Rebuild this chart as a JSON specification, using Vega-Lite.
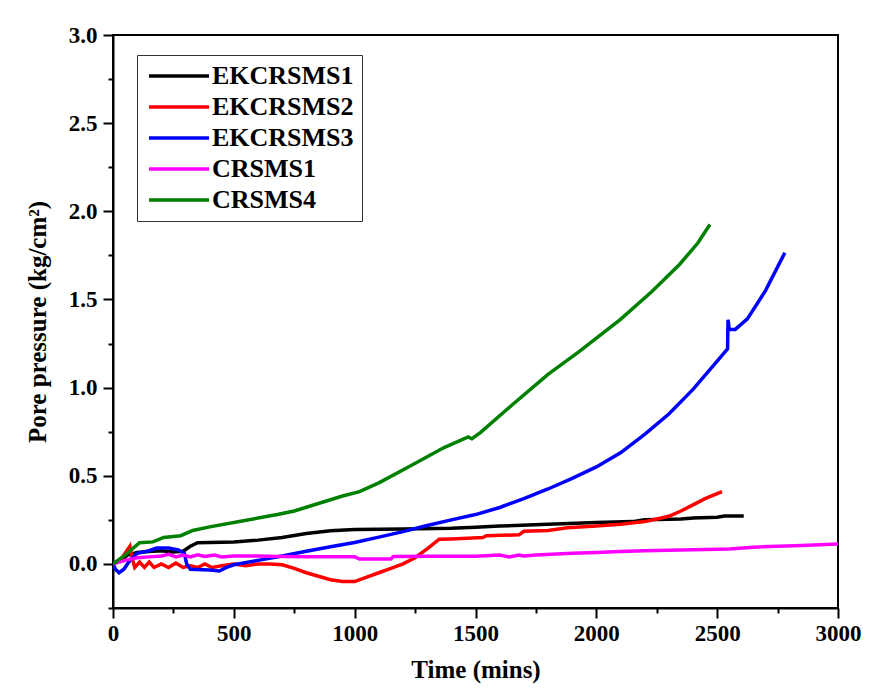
{
  "$schema": "https://vega.github.io/schema/vega-lite/v6.json",
  "width": 725,
  "height": 573,
  "autosize": {"type": "none"},
  "padding": {"left": 113, "top": 35, "right": 32, "bottom": 87},
  "background": "white",
  "config": {
    "font": "Liberation Serif",
    "view": {"stroke": "black", "strokeWidth": 2},
    "axis": {
      "labelFont": "Liberation Serif", "labelFontWeight": "bold", "labelFontSize": 23, "labelColor": "black",
      "titleFont": "Liberation Serif", "titleFontWeight": "bold", "titleFontSize": 25, "titleColor": "black",
      "domainColor": "black", "domainWidth": 2, "tickColor": "black", "tickWidth": 2, "grid": false,
      "labelFlush": false
    }
  },
  "datasets": {
    "curves": [
      {"series": "EKCRSMS1", "t": 0, "p": 0}, {"series": "EKCRSMS1", "t": 30, "p": 0.02}, {"series": "EKCRSMS1", "t": 60, "p": 0.05},
      {"series": "EKCRSMS1", "t": 100, "p": 0.065}, {"series": "EKCRSMS1", "t": 150, "p": 0.07}, {"series": "EKCRSMS1", "t": 200, "p": 0.075},
      {"series": "EKCRSMS1", "t": 250, "p": 0.068}, {"series": "EKCRSMS1", "t": 290, "p": 0.072}, {"series": "EKCRSMS1", "t": 320, "p": 0.1},
      {"series": "EKCRSMS1", "t": 350, "p": 0.12}, {"series": "EKCRSMS1", "t": 500, "p": 0.125}, {"series": "EKCRSMS1", "t": 600, "p": 0.135},
      {"series": "EKCRSMS1", "t": 700, "p": 0.15}, {"series": "EKCRSMS1", "t": 800, "p": 0.172}, {"series": "EKCRSMS1", "t": 900, "p": 0.188},
      {"series": "EKCRSMS1", "t": 1000, "p": 0.195}, {"series": "EKCRSMS1", "t": 1200, "p": 0.198}, {"series": "EKCRSMS1", "t": 1400, "p": 0.202},
      {"series": "EKCRSMS1", "t": 1500, "p": 0.208}, {"series": "EKCRSMS1", "t": 1600, "p": 0.215}, {"series": "EKCRSMS1", "t": 1800, "p": 0.225},
      {"series": "EKCRSMS1", "t": 2000, "p": 0.235}, {"series": "EKCRSMS1", "t": 2150, "p": 0.24}, {"series": "EKCRSMS1", "t": 2200, "p": 0.25},
      {"series": "EKCRSMS1", "t": 2350, "p": 0.255}, {"series": "EKCRSMS1", "t": 2400, "p": 0.26}, {"series": "EKCRSMS1", "t": 2500, "p": 0.265},
      {"series": "EKCRSMS1", "t": 2530, "p": 0.272}, {"series": "EKCRSMS1", "t": 2610, "p": 0.272},

      {"series": "EKCRSMS2", "t": 0, "p": 0}, {"series": "EKCRSMS2", "t": 30, "p": 0.02}, {"series": "EKCRSMS2", "t": 55, "p": 0.07},
      {"series": "EKCRSMS2", "t": 70, "p": 0.1}, {"series": "EKCRSMS2", "t": 80, "p": 0.03}, {"series": "EKCRSMS2", "t": 90, "p": -0.02},
      {"series": "EKCRSMS2", "t": 110, "p": 0.01}, {"series": "EKCRSMS2", "t": 130, "p": -0.02}, {"series": "EKCRSMS2", "t": 150, "p": 0.01},
      {"series": "EKCRSMS2", "t": 170, "p": -0.02}, {"series": "EKCRSMS2", "t": 200, "p": 0.0}, {"series": "EKCRSMS2", "t": 230, "p": -0.02},
      {"series": "EKCRSMS2", "t": 260, "p": 0.005}, {"series": "EKCRSMS2", "t": 290, "p": -0.02}, {"series": "EKCRSMS2", "t": 320, "p": -0.01},
      {"series": "EKCRSMS2", "t": 350, "p": -0.02}, {"series": "EKCRSMS2", "t": 380, "p": 0.0}, {"series": "EKCRSMS2", "t": 410, "p": -0.02},
      {"series": "EKCRSMS2", "t": 450, "p": -0.01}, {"series": "EKCRSMS2", "t": 500, "p": 0.0}, {"series": "EKCRSMS2", "t": 550, "p": -0.01},
      {"series": "EKCRSMS2", "t": 600, "p": 0.0}, {"series": "EKCRSMS2", "t": 650, "p": 0.0}, {"series": "EKCRSMS2", "t": 700, "p": -0.005},
      {"series": "EKCRSMS2", "t": 750, "p": -0.025}, {"series": "EKCRSMS2", "t": 800, "p": -0.05}, {"series": "EKCRSMS2", "t": 850, "p": -0.07},
      {"series": "EKCRSMS2", "t": 900, "p": -0.09}, {"series": "EKCRSMS2", "t": 950, "p": -0.1}, {"series": "EKCRSMS2", "t": 1000, "p": -0.1},
      {"series": "EKCRSMS2", "t": 1050, "p": -0.075}, {"series": "EKCRSMS2", "t": 1100, "p": -0.05}, {"series": "EKCRSMS2", "t": 1150, "p": -0.025},
      {"series": "EKCRSMS2", "t": 1200, "p": 0.0}, {"series": "EKCRSMS2", "t": 1250, "p": 0.035}, {"series": "EKCRSMS2", "t": 1300, "p": 0.085},
      {"series": "EKCRSMS2", "t": 1350, "p": 0.14}, {"series": "EKCRSMS2", "t": 1400, "p": 0.142}, {"series": "EKCRSMS2", "t": 1530, "p": 0.15},
      {"series": "EKCRSMS2", "t": 1545, "p": 0.16}, {"series": "EKCRSMS2", "t": 1680, "p": 0.165}, {"series": "EKCRSMS2", "t": 1700, "p": 0.185},
      {"series": "EKCRSMS2", "t": 1800, "p": 0.19}, {"series": "EKCRSMS2", "t": 1880, "p": 0.205}, {"series": "EKCRSMS2", "t": 2000, "p": 0.215},
      {"series": "EKCRSMS2", "t": 2100, "p": 0.225}, {"series": "EKCRSMS2", "t": 2200, "p": 0.24}, {"series": "EKCRSMS2", "t": 2250, "p": 0.255},
      {"series": "EKCRSMS2", "t": 2300, "p": 0.27}, {"series": "EKCRSMS2", "t": 2350, "p": 0.3}, {"series": "EKCRSMS2", "t": 2400, "p": 0.335},
      {"series": "EKCRSMS2", "t": 2450, "p": 0.37}, {"series": "EKCRSMS2", "t": 2520, "p": 0.41},

      {"series": "EKCRSMS3", "t": 0, "p": 0}, {"series": "EKCRSMS3", "t": 10, "p": -0.03}, {"series": "EKCRSMS3", "t": 25, "p": -0.05},
      {"series": "EKCRSMS3", "t": 45, "p": -0.03}, {"series": "EKCRSMS3", "t": 70, "p": 0.02}, {"series": "EKCRSMS3", "t": 100, "p": 0.06},
      {"series": "EKCRSMS3", "t": 150, "p": 0.075}, {"series": "EKCRSMS3", "t": 180, "p": 0.09}, {"series": "EKCRSMS3", "t": 230, "p": 0.09},
      {"series": "EKCRSMS3", "t": 270, "p": 0.08}, {"series": "EKCRSMS3", "t": 295, "p": 0.06}, {"series": "EKCRSMS3", "t": 305, "p": 0.0},
      {"series": "EKCRSMS3", "t": 320, "p": -0.03}, {"series": "EKCRSMS3", "t": 400, "p": -0.035}, {"series": "EKCRSMS3", "t": 440, "p": -0.04},
      {"series": "EKCRSMS3", "t": 470, "p": -0.02}, {"series": "EKCRSMS3", "t": 500, "p": -0.005}, {"series": "EKCRSMS3", "t": 600, "p": 0.02},
      {"series": "EKCRSMS3", "t": 700, "p": 0.045}, {"series": "EKCRSMS3", "t": 800, "p": 0.072}, {"series": "EKCRSMS3", "t": 900, "p": 0.097},
      {"series": "EKCRSMS3", "t": 1000, "p": 0.122}, {"series": "EKCRSMS3", "t": 1100, "p": 0.152}, {"series": "EKCRSMS3", "t": 1200, "p": 0.183},
      {"series": "EKCRSMS3", "t": 1300, "p": 0.218}, {"series": "EKCRSMS3", "t": 1400, "p": 0.25}, {"series": "EKCRSMS3", "t": 1500, "p": 0.28},
      {"series": "EKCRSMS3", "t": 1600, "p": 0.32}, {"series": "EKCRSMS3", "t": 1700, "p": 0.37}, {"series": "EKCRSMS3", "t": 1800, "p": 0.425},
      {"series": "EKCRSMS3", "t": 1900, "p": 0.485}, {"series": "EKCRSMS3", "t": 2000, "p": 0.55}, {"series": "EKCRSMS3", "t": 2100, "p": 0.63},
      {"series": "EKCRSMS3", "t": 2200, "p": 0.735}, {"series": "EKCRSMS3", "t": 2300, "p": 0.85}, {"series": "EKCRSMS3", "t": 2400, "p": 0.99},
      {"series": "EKCRSMS3", "t": 2500, "p": 1.15}, {"series": "EKCRSMS3", "t": 2543, "p": 1.22}, {"series": "EKCRSMS3", "t": 2545, "p": 1.385},
      {"series": "EKCRSMS3", "t": 2550, "p": 1.33}, {"series": "EKCRSMS3", "t": 2575, "p": 1.33}, {"series": "EKCRSMS3", "t": 2625, "p": 1.39},
      {"series": "EKCRSMS3", "t": 2700, "p": 1.55}, {"series": "EKCRSMS3", "t": 2780, "p": 1.765},

      {"series": "CRSMS1", "t": 0, "p": 0}, {"series": "CRSMS1", "t": 50, "p": 0.02}, {"series": "CRSMS1", "t": 100, "p": 0.035},
      {"series": "CRSMS1", "t": 150, "p": 0.04}, {"series": "CRSMS1", "t": 200, "p": 0.045}, {"series": "CRSMS1", "t": 230, "p": 0.055},
      {"series": "CRSMS1", "t": 260, "p": 0.04}, {"series": "CRSMS1", "t": 290, "p": 0.05}, {"series": "CRSMS1", "t": 320, "p": 0.04},
      {"series": "CRSMS1", "t": 350, "p": 0.052}, {"series": "CRSMS1", "t": 380, "p": 0.042}, {"series": "CRSMS1", "t": 420, "p": 0.05},
      {"series": "CRSMS1", "t": 450, "p": 0.04}, {"series": "CRSMS1", "t": 500, "p": 0.045}, {"series": "CRSMS1", "t": 600, "p": 0.045},
      {"series": "CRSMS1", "t": 700, "p": 0.042}, {"series": "CRSMS1", "t": 800, "p": 0.04}, {"series": "CRSMS1", "t": 1000, "p": 0.04},
      {"series": "CRSMS1", "t": 1020, "p": 0.028}, {"series": "CRSMS1", "t": 1150, "p": 0.028}, {"series": "CRSMS1", "t": 1160, "p": 0.042},
      {"series": "CRSMS1", "t": 1300, "p": 0.043}, {"series": "CRSMS1", "t": 1500, "p": 0.044}, {"series": "CRSMS1", "t": 1600, "p": 0.05},
      {"series": "CRSMS1", "t": 1640, "p": 0.04}, {"series": "CRSMS1", "t": 1680, "p": 0.05}, {"series": "CRSMS1", "t": 1700, "p": 0.045},
      {"series": "CRSMS1", "t": 1750, "p": 0.05}, {"series": "CRSMS1", "t": 1900, "p": 0.06}, {"series": "CRSMS1", "t": 2000, "p": 0.065},
      {"series": "CRSMS1", "t": 2100, "p": 0.07}, {"series": "CRSMS1", "t": 2200, "p": 0.075}, {"series": "CRSMS1", "t": 2400, "p": 0.08},
      {"series": "CRSMS1", "t": 2550, "p": 0.085}, {"series": "CRSMS1", "t": 2650, "p": 0.095}, {"series": "CRSMS1", "t": 2850, "p": 0.105},
      {"series": "CRSMS1", "t": 3000, "p": 0.113},

      {"series": "CRSMS4", "t": 0, "p": 0}, {"series": "CRSMS4", "t": 50, "p": 0.05}, {"series": "CRSMS4", "t": 110, "p": 0.12},
      {"series": "CRSMS4", "t": 165, "p": 0.125}, {"series": "CRSMS4", "t": 210, "p": 0.15}, {"series": "CRSMS4", "t": 280, "p": 0.16},
      {"series": "CRSMS4", "t": 330, "p": 0.19}, {"series": "CRSMS4", "t": 400, "p": 0.21}, {"series": "CRSMS4", "t": 540, "p": 0.245},
      {"series": "CRSMS4", "t": 680, "p": 0.28}, {"series": "CRSMS4", "t": 750, "p": 0.3}, {"series": "CRSMS4", "t": 950, "p": 0.385},
      {"series": "CRSMS4", "t": 1020, "p": 0.41}, {"series": "CRSMS4", "t": 1100, "p": 0.46}, {"series": "CRSMS4", "t": 1230, "p": 0.555},
      {"series": "CRSMS4", "t": 1370, "p": 0.66}, {"series": "CRSMS4", "t": 1470, "p": 0.72}, {"series": "CRSMS4", "t": 1485, "p": 0.71},
      {"series": "CRSMS4", "t": 1520, "p": 0.745}, {"series": "CRSMS4", "t": 1650, "p": 0.9}, {"series": "CRSMS4", "t": 1800, "p": 1.075},
      {"series": "CRSMS4", "t": 1930, "p": 1.205}, {"series": "CRSMS4", "t": 2100, "p": 1.387}, {"series": "CRSMS4", "t": 2230, "p": 1.545},
      {"series": "CRSMS4", "t": 2345, "p": 1.7}, {"series": "CRSMS4", "t": 2420, "p": 1.82}, {"series": "CRSMS4", "t": 2470, "p": 1.925}
    ]
  },
  "layer": [
    {
      "mark": {"type": "rule", "color": "#5a5aa8", "strokeWidth": 1},
      "encoding": {"y": {"datum": 0, "type": "quantitative", "scale": {"domain": [-0.25, 3.0], "nice": false}}}
    },
    {
      "data": {"name": "curves"},
      "mark": {"type": "line", "strokeWidth": 3.5, "clip": true},
      "encoding": {
        "x": {
          "field": "t", "type": "quantitative",
          "scale": {"domain": [0, 3000], "nice": false},
          "axis": {
            "title": "Time (mins)",
            "values": [0, 250, 500, 750, 1000, 1250, 1500, 1750, 2000, 2250, 2500, 2750, 3000],
            "labelExpr": "datum.value % 500 === 0 ? datum.label : ''",
            "format": "d",
            "tickSize": {"condition": {"test": "datum.value % 500 === 0", "value": 10}, "value": 5},
            "labelPadding": 4,
            "titlePadding": 12
          }
        },
        "y": {
          "field": "p", "type": "quantitative",
          "scale": {"domain": [-0.25, 3.0], "nice": false},
          "axis": {
            "title": "Pore pressure (kg/cm²)",
            "values": [-0.25, 0, 0.25, 0.5, 0.75, 1, 1.25, 1.5, 1.75, 2, 2.25, 2.5, 2.75, 3],
            "labelExpr": "datum.value % 0.5 === 0 ? format(datum.value, '.1f') : ''",
            "tickSize": {"condition": {"test": "datum.value % 0.5 === 0", "value": 10}, "value": 5},
            "labelPadding": 6,
            "titlePadding": 18
          }
        },
        "color": {
          "field": "series", "type": "nominal",
          "scale": {
            "domain": ["EKCRSMS1", "EKCRSMS2", "EKCRSMS3", "CRSMS1", "CRSMS4"],
            "range": ["#000000", "#ff0000", "#0000ff", "#ff00ff", "#008000"]
          },
          "legend": {
            "title": null, "orient": "none", "legendX": 24, "legendY": 20,
            "strokeColor": "#333333", "padding": 8,
            "labelFont": "Liberation Serif", "labelFontSize": 26, "labelFontWeight": "bold", "labelColor": "black",
            "symbolType": "M-3,0H3", "symbolSize": 400, "symbolStrokeWidth": 3.5, "symbolOffset": 21,
            "rowPadding": 5, "labelOffset": 20
          }
        },
        "order": {"field": "t", "type": "quantitative"}
      }
    }
  ]
}
